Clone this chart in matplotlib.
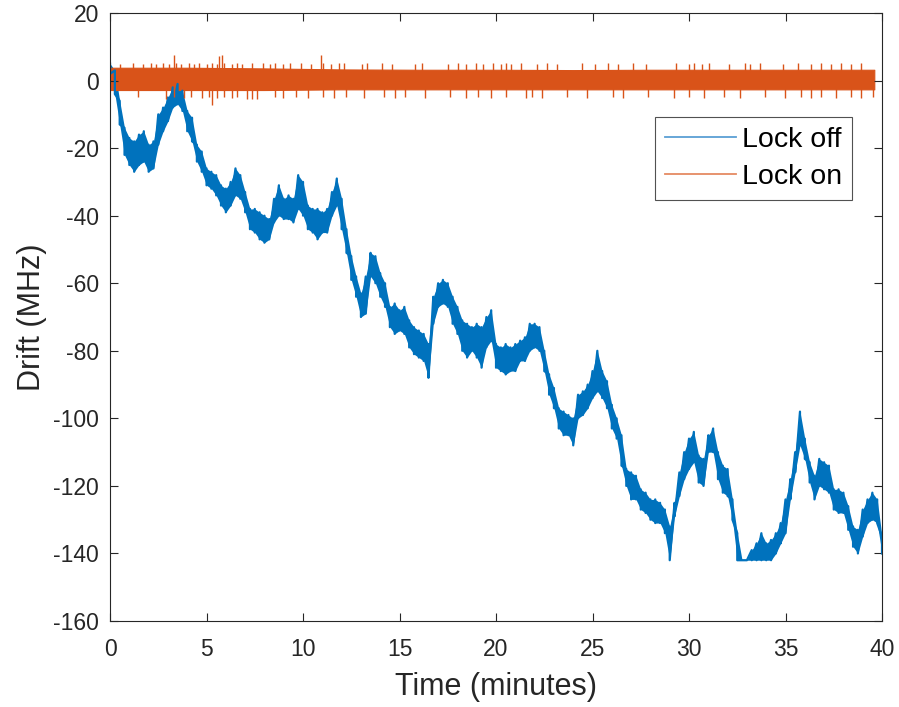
import matplotlib
matplotlib.use("Agg")
import matplotlib.pyplot as plt
from matplotlib.lines import Line2D

plt.rcParams['font.family'] = ['Liberation Sans', 'DejaVu Sans']
plt.rcParams['axes.unicode_minus'] = False

# ---- Lock off (blue): upper / lower envelope of the jittering trace every 0.25 min
t_off = [i * 0.25 for i in range(161)]
off_hi = [5, 3, -6, -14, -17, -18, -16, -15, -19, -18, -10, -8, -5, -2, -1, -3,
          -9, -11, -19, -21, -26, -27, -28, -31, -32, -30, -26, -28, -33, -38, -38, -39,
          -40, -41, -35, -31, -35, -34, -35, -28, -30, -37, -38, -38, -39, -38, -33, -29,
          -35, -44, -52, -58, -63, -58, -51, -52, -57, -60, -67, -66, -68, -67, -71, -73,
          -74, -75, -78, -64, -60, -59, -60, -64, -67, -71, -72, -73, -72, -73, -70, -68,
          -78, -79, -78, -79, -78, -77, -76, -72, -72, -73, -80, -87, -91, -97, -98, -99,
          -100, -93, -92, -90, -86, -80, -86, -89, -96, -100, -105, -115, -116, -117, -121, -122,
          -124, -124, -125, -127, -132, -125, -116, -110, -106, -104, -111, -112, -105, -103, -110, -114,
          -115, -124, -134, -142, -142, -139, -137, -134, -137, -136, -134, -131, -124, -118, -110, -98,
          -106, -113, -117, -112, -113, -114, -121, -121, -122, -126, -132, -133, -127, -124, -122, -124,
          -135]
off_lo = [2, -4, -13, -22, -25, -27, -25, -24, -27, -26, -19, -15, -12, -8, -7, -9,
          -15, -18, -24, -27, -31, -32, -34, -37, -39, -37, -34, -35, -39, -44, -45, -47,
          -48, -47, -42, -40, -41, -41, -42, -38, -40, -44, -45, -47, -45, -45, -40, -37,
          -44, -51, -59, -64, -70, -69, -58, -60, -64, -67, -73, -75, -74, -75, -79, -81,
          -82, -83, -88, -72, -67, -66, -67, -72, -75, -80, -82, -80, -82, -85, -79, -77,
          -85, -86, -87, -86, -86, -83, -83, -80, -79, -80, -86, -93, -97, -103, -105, -105,
          -108, -100, -99, -97, -94, -92, -94, -97, -103, -106, -114, -120, -124, -124, -127, -128,
          -130, -131, -131, -134, -142, -129, -123, -118, -115, -113, -119, -120, -110, -110, -118, -122,
          -123, -130, -142, -142, -142, -142, -142, -142, -142, -142, -140, -137, -134, -124, -116, -108,
          -112, -119, -124, -120, -121, -122, -127, -128, -128, -133, -138, -140, -135, -131, -130, -131,
          -140]

# ---- Lock on (orange): dense core band and individual spikes
t_on_core = [0, 4, 8, 12, 16, 20, 24, 28, 32, 36, 39.6]
on_core_hi = [3.8, 3.8, 3.6, 3.3, 3.2, 3.2, 3.1, 3.2, 3.2, 3.2, 3.2]
on_core_lo = [-2.8, -2.8, -2.8, -2.6, -2.6, -2.6, -2.6, -2.6, -2.6, -2.6, -2.6]

spike_up_t = [0.53, 1.19, 1.71, 2.11, 2.37, 2.77, 3.03, 3.43, 3.69, 4.08, 4.35, 4.61,
              5.01, 5.27, 5.53, 5.93, 6.32, 6.58, 6.85, 7.37, 7.90, 8.29, 8.55, 8.95,
              9.35, 9.87, 10.40, 11.06, 11.45, 11.84, 12.11, 13.03, 13.29, 14.08, 14.6,
              15.79, 16.18, 17.5, 18.03, 18.42, 18.94, 19.34, 19.86, 20.26, 20.52, 20.79,
              21.31, 22.10, 22.63, 23.15, 24.47, 25.12, 25.78, 26.31, 27.1, 27.76, 29.33,
              29.99, 30.25, 30.65, 31.04, 32.09, 32.88, 33.15, 33.67, 34.85, 35.65, 36.30,
              36.83, 37.36, 37.88, 38.41, 38.93, 3.29, 5.66, 5.79, 10.92]
spike_up_v = [5.0, 5.2, 4.8, 5.3, 5.0, 5.2, 5.0, 5.3, 4.9, 5.2, 5.0, 5.3,
              5.0, 5.2, 4.9, 5.3, 5.0, 5.2, 4.9, 5.1, 5.3, 5.0, 5.2, 4.9,
              5.1, 5.2, 5.0, 5.3, 5.0, 5.1, 5.2, 5.0, 5.1, 5.2, 5.0,
              5.0, 5.1, 5.0, 5.2, 5.0, 5.1, 5.0, 5.2, 5.0, 5.1, 5.0,
              5.2, 5.0, 5.1, 5.0, 5.2, 5.0, 5.1, 5.0, 5.2, 5.0, 5.1,
              5.0, 5.2, 5.0, 5.1, 5.0, 5.2, 5.0, 5.1, 5.0, 5.2, 5.0,
              5.1, 5.0, 5.2, 5.0, 5.1, 7.6, 7.4, 7.6, 7.6]
spike_dn_t = [1.45, 2.9, 3.29, 3.82, 4.22, 4.74, 5.14, 5.53, 5.93, 6.32, 6.58, 7.11,
              7.37, 7.63, 8.55, 8.95, 9.61, 10.26, 11.06, 11.58, 12.24, 13.16, 14.21,
              14.74, 15.26, 16.32, 17.63, 18.42, 19.07, 19.73, 20.52, 21.57, 21.84, 22.36,
              23.68, 24.73, 26.05, 26.57, 27.89, 29.2, 29.99, 30.78, 31.83, 32.62, 33.93,
              34.98, 35.78, 36.3, 36.83, 37.62, 38.41, 38.93, 39.52, 5.27]
spike_dn_v = [-5.0, -5.5, -5.0, -5.2, -5.0, -5.3, -5.0, -5.2, -5.0, -5.3, -5.0, -5.6,
              -5.5, -5.6, -5.0, -5.2, -5.0, -5.1, -5.0, -5.2, -5.0, -5.1, -5.0,
              -5.2, -5.0, -5.1, -5.0, -5.2, -5.0, -5.1, -5.0, -5.2, -5.0, -5.1,
              -5.0, -5.2, -5.0, -5.1, -5.0, -5.2, -5.0, -5.1, -5.0, -5.2, -5.0,
              -5.1, -5.0, -5.2, -5.0, -5.1, -5.0, -5.2, -5.0, -7.2]

x_ticks = [0, 5, 10, 15, 20, 25, 30, 35, 40]
y_ticks = [-160, -140, -120, -100, -80, -60, -40, -20, 0, 20]

BLUE = '#0072BD'
ORANGE = '#D95319'
AXC = '#262626'

fig = plt.figure(figsize=(8.99, 7.07), dpi=100)
ax = fig.add_axes([0.1224, 0.1216, 0.8587, 0.8600])

# blue trace: solid band between envelopes plus vertical strokes joined sample to sample
ax.fill_between(t_off, off_lo, off_hi, color=BLUE, lw=0)
path_t = []
path_v = []
for t, h, l in zip(t_off, off_hi, off_lo):
    path_t += [t, t]
    path_v += [h, l]
ax.plot(path_t, path_v, color=BLUE, lw=1.6)

ax.fill_between(t_on_core, on_core_lo, on_core_hi, color=ORANGE, lw=0.8, edgecolor=ORANGE)
ax.vlines(spike_up_t, 0, spike_up_v, color=ORANGE, lw=1.0)
ax.vlines(spike_dn_t, 0, spike_dn_v, color=ORANGE, lw=1.0)

ax.set_xlim(0, 40)
ax.set_ylim(-160, 20)
ax.set_xticks(x_ticks)
ax.set_yticks(y_ticks)
ax.tick_params(direction='in', length=6, width=0.8, colors=AXC,
               labelsize=16.5, top=True, right=True, labelcolor=AXC)
ax.tick_params(axis='x', pad=12)
ax.tick_params(axis='y', pad=8)
for s in ax.spines.values():
    s.set_color(AXC)
    s.set_linewidth(0.8)

ax.set_xlabel('Time (minutes)', fontsize=22, color=AXC, labelpad=8)
ax.set_ylabel('Drift (MHz)', fontsize=22, color=AXC, labelpad=4)

h1 = Line2D([], [], color='#5a9fd4', lw=1.3)
h2 = Line2D([], [], color='#e58a62', lw=1.3)
leg = ax.legend([h1, h2], ['Lock off', 'Lock on'], loc='upper right',
                bbox_to_anchor=(0.961, 0.829), fontsize=20.5, frameon=True,
                fancybox=False, edgecolor=AXC, handlelength=2.5,
                handletextpad=0.2, borderpad=0.35, labelspacing=0.4,
                borderaxespad=0)
leg.get_frame().set_linewidth(0.8)

fig.savefig('out.png', dpi=100, facecolor='white')
